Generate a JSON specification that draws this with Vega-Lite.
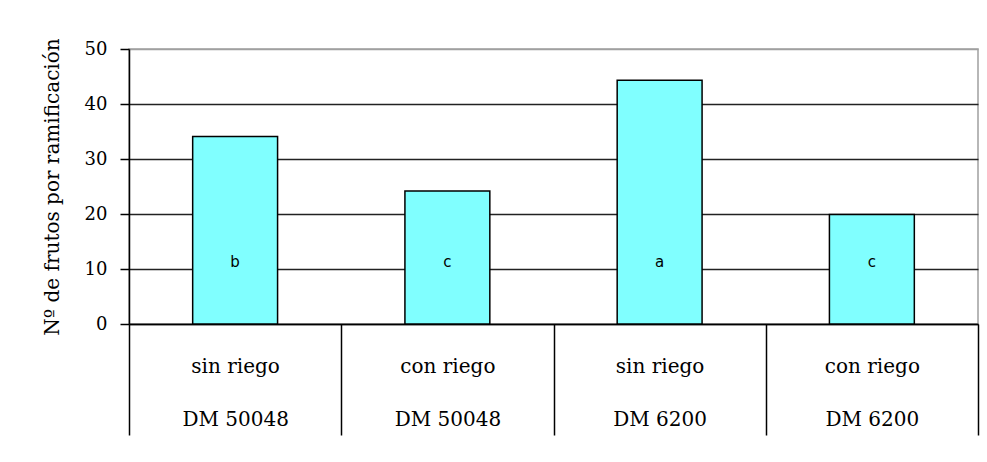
{
  "$schema": "https://vega.github.io/schema/vega-lite/v6.json",
  "width": 849,
  "height": 275,
  "autosize": {"type": "none"},
  "padding": {"left": 129, "top": 49, "right": 9, "bottom": 138},
  "background": "#ffffff",
  "config": {
    "view": {"stroke": "#a0a0a0", "strokeWidth": 1.5}
  },
  "data": {
    "values": [
      {"grupo": "sin riego\nDM 50048", "frutos": 34.1, "letra": "b"},
      {"grupo": "con riego\nDM 50048", "frutos": 24.2, "letra": "c"},
      {"grupo": "sin riego\nDM 6200", "frutos": 44.3, "letra": "a"},
      {"grupo": "con riego\nDM 6200", "frutos": 19.9, "letra": "c"}
    ]
  },
  "encoding": {
    "x": {
      "field": "grupo",
      "type": "nominal",
      "sort": null,
      "scale": {"paddingInner": 0, "paddingOuter": 0},
      "axis": {
        "title": null,
        "labelAngle": 0,
        "labelExpr": "isString(datum.value) ? split(datum.value, '\\n') : ''",
        "tickBand": "extent",
        "tickSize": 111,
        "tickColor": "#000000",
        "tickWidth": 1.5,
        "domainColor": "#000000",
        "domainWidth": 1.5,
        "labelFont": "DejaVu Serif",
        "labelFontSize": 20,
        "labelColor": "#000000",
        "labelLineHeight": 53,
        "labelBaseline": "alphabetic",
        "labelPadding": -63,
        "labelOverlap": false,
        "grid": false
      }
    }
  },
  "layer": [
    {
      "mark": {"type": "bar", "fill": "#80ffff", "stroke": "#000000", "strokeWidth": 1.5, "width": {"band": 0.4}},
      "encoding": {
        "y": {
          "field": "frutos",
          "type": "quantitative",
          "scale": {"domain": [0, 50]},
          "axis": {
            "title": "Nº de frutos por ramificación",
            "values": [0, 10, 20, 30, 40, 50],
            "tickSize": 9,
            "tickColor": "#000000",
            "tickWidth": 1.5,
            "domainColor": "#000000",
            "domainWidth": 1.5,
            "labelFont": "DejaVu Serif",
            "labelFontSize": 18,
            "labelColor": "#000000",
            "labelPadding": 13,
            "titleFont": "DejaVu Serif",
            "titleFontSize": 20,
            "titleFontWeight": "normal",
            "titleColor": "#000000",
            "titlePadding": 22,
            "gridColor": {"condition": {"test": "datum.value == 50", "value": "#a0a0a0"}, "value": "#222222"},
            "gridWidth": 1.6
          }
        }
      }
    },
    {
      "mark": {"type": "text", "font": "DejaVu Sans", "fontSize": 15, "color": "#000000", "baseline": "middle"},
      "encoding": {
        "y": {"datum": 11.3, "type": "quantitative"},
        "text": {"field": "letra"}
      }
    }
  ]
}
